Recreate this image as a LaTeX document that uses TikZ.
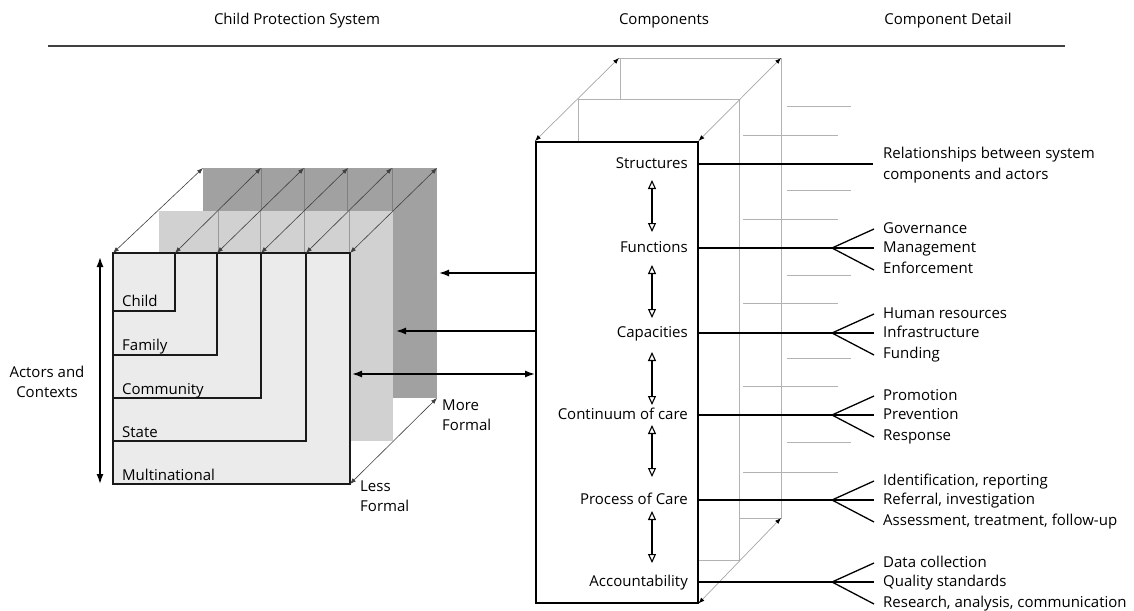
\documentclass[tikz,border=0pt]{standalone}
\usepackage{fontspec}
\setmainfont{Open Sans}
\usetikzlibrary{arrows.meta}
\begin{document}
\begin{tikzpicture}[x=1pt,y=-1pt,
  font=\fontsize{15}{20.5}\selectfont,
  lbl/.style={inner sep=0pt, text height=11pt, text depth=3pt},
  blk/.style={line width=1.5pt, black},
  cubeedge/.style={line width=1.4pt, black!90},
  diag/.style={line width=0.6pt, black!75, {Latex[length=6pt,width=4.5pt]}-{Latex[length=6pt,width=4.5pt]}},
  gdiag/.style={line width=0.7pt, black!35, {Latex[length=6pt,width=4.5pt,color=black]}-{Latex[length=6pt,width=4.5pt,color=black]}},
  frame/.style={line width=0.8pt, black!30},
  shelf/.style={line width=0.8pt, black!30},
  divider/.style={line width=0.6pt, black!55},
  conn/.style={line width=1.5pt, -{Latex[length=10pt,width=7pt]}},
  dconn/.style={line width=1.5pt, {Latex[length=10pt,width=7pt]}-{Latex[length=10pt,width=7pt]}},
  openarr/.style={line width=1.3pt, {Triangle[open,length=9pt,width=8pt,line width=1.1pt]}-{Triangle[open,length=9pt,width=8pt,line width=1.1pt]}},
  branch/.style={line width=1.3pt, black}
]
\useasboundingbox (0,0) rectangle (1134,610);

% ---------- header ----------
\node[lbl] (h1) at (297,21) {Child Protection System};
\node[lbl] (h2) at (664,21) {Components};
\node[lbl] (h3) at (948,21) {Component Detail};
\coordinate (hl) at (48,46);
\coordinate (hr) at (1065,46);
\draw[line width=2pt, black!75] (hl) -- (hr);

% ---------- left cube ----------
\fill[black!37] (203,168) rectangle (437,398);
\foreach \x in {261,304,347,392} \draw[divider, black!50] (\x,168) -- (\x,211);
\fill[black!18] (159,211) rectangle (393,441);
\foreach \x in {218,260,304,349} \draw[divider, black!40] (\x,211) -- (\x,253);
\fill[black!8] (113,253) rectangle (350,484);
\draw[cubeedge] (113,253) rectangle (306,441);
\draw[cubeedge] (113,253) rectangle (261,398);
\draw[cubeedge] (113,253) rectangle (217,355);
\draw[cubeedge] (113,253) rectangle (175,311);
\draw[cubeedge] (113,253) rectangle (350,484);

\node[lbl, anchor=west] (child) at (122,302) {Child};
\node[lbl, anchor=west] (family) at (122,346) {Family};
\node[lbl, anchor=west] (community) at (122,390) {Community};
\node[lbl, anchor=west] (state) at (122,433) {State};
\node[lbl, anchor=west] (multi) at (122,476) {Multinational};

% depth diagonals
\coordinate (f1) at (113,253); \coordinate (b1) at (203,168);
\coordinate (f2) at (175,253); \coordinate (b2) at (261,168);
\coordinate (f3) at (217,253); \coordinate (b3) at (304,168);
\coordinate (f4) at (261,253); \coordinate (b4) at (348,168);
\coordinate (f5) at (306,253); \coordinate (b5) at (392,168);
\coordinate (f6) at (350,253); \coordinate (b6) at (437,168);
\coordinate (f7) at (350,484); \coordinate (b7) at (437,398);
\foreach \i in {1,...,7} \draw[diag] (f\i) -- (b\i);

% actors and contexts
\coordinate (act1) at (100,257);
\coordinate (act2) at (100,484);
\draw[dconn] (act1) -- (act2);
\node[align=center, inner sep=0pt] (actors) at (47,382) {Actors and\\Contexts};
\node[align=left, inner sep=0pt, anchor=west] (more) at (442,415) {More\\Formal};
\node[align=left, inner sep=0pt, anchor=west] (less) at (360,496) {Less\\Formal};

% ---------- middle box (components) ----------
% back frame
\draw[frame] (619,58) -- (781,58);
\draw[frame] (620,58) -- (620,99);
\draw[frame] (781,58) -- (781,518) -- (739,518);
% middle frame
\draw[frame] (578,99) -- (739,99);
\draw[frame] (578,99) -- (578,141);
\draw[frame] (739,99) -- (739,560) -- (697,560);
% shelves
\foreach \y in {106,190,275,358,442} \draw[shelf] (787,\y) -- (851,\y);
\foreach \y in {135,219,303,386,472} \draw[shelf] (743,\y) -- (838,\y);

\node[draw, line width=1.5pt, fill=white, minimum width=162pt, minimum height=461pt, inner sep=0pt, anchor=north west] (box) at (535,141) {};

\coordinate (bt1) at (619,58);
\coordinate (bt2) at (781,58);
\coordinate (bt3) at (781,518);
\draw[gdiag] (box.north west) -- (bt1);
\draw[gdiag] (box.north east) -- (bt2);
\draw[gdiag] (box.south east) -- (bt3);

% components
\node[lbl, anchor=east] (c1) at (688,164) {Structures};
\node[lbl, anchor=east] (c2) at (688,248) {Functions};
\node[lbl, anchor=east] (c3) at (688,333) {Capacities};
\node[lbl, anchor=east] (c4) at (688,415) {Continuum of care};
\node[lbl, anchor=east] (c5) at (688,500) {Process of Care};
\node[lbl, anchor=east] (c6) at (688,582) {Accountability};

\coordinate (u1) at (652,180); \coordinate (d1) at (652,232);
\coordinate (u2) at (652,265); \coordinate (d2) at (652,318);
\coordinate (u3) at (652,352); \coordinate (d3) at (652,405);
\coordinate (u4) at (652,425); \coordinate (d4) at (652,477);
\coordinate (u5) at (652,511); \coordinate (d5) at (652,563);
\foreach \i in {1,...,5} \draw[openarr] (u\i) -- (d\i);

% arrows to the cube
\coordinate (t1) at (439,273);
\coordinate (t2) at (396,331);
\coordinate (t3) at (352,374);
\draw[conn] (box.west |- t1) -- (t1);
\draw[conn] (box.west |- t2) -- (t2);
\draw[dconn] (t3) -- (box.west |- t3);

% ---------- details ----------
\coordinate (s1) at (873,164);
\draw[branch] (box.east |- c1) -- (s1);
\node[align=left, inner sep=0pt, anchor=west] (d1t) at (883,165) {Relationships between system\\components and actors};

\foreach \i/\y/\a/\b/\c in {
  2/248/Governance/Management/Enforcement,
  3/333/Human resources/Infrastructure/Funding,
  4/415/Promotion/Prevention/Response,
  5/500/{Identification, reporting}/{Referral, investigation}/{Assessment, treatment, follow-up},
  6/582/Data collection/Quality standards/{Research, analysis, communication}} {
  \coordinate (k\i) at (832,\y);
  \coordinate (ka\i) at (874,\y-19);
  \coordinate (kb\i) at (874,\y);
  \coordinate (kc\i) at (874,\y+22);
  \draw[branch] (box.east |- k\i) -- (k\i) -- (kb\i);
  \draw[branch] (ka\i) -- (k\i) -- (kc\i);
  \node[lbl, anchor=west] (ta\i) at (883,\y-19) {\a};
  \node[lbl, anchor=west] (tb\i) at (883,\y) {\b};
  \node[lbl, anchor=west] (tc\i) at (883,\y+21) {\c};
}
\end{tikzpicture}
\end{document}
